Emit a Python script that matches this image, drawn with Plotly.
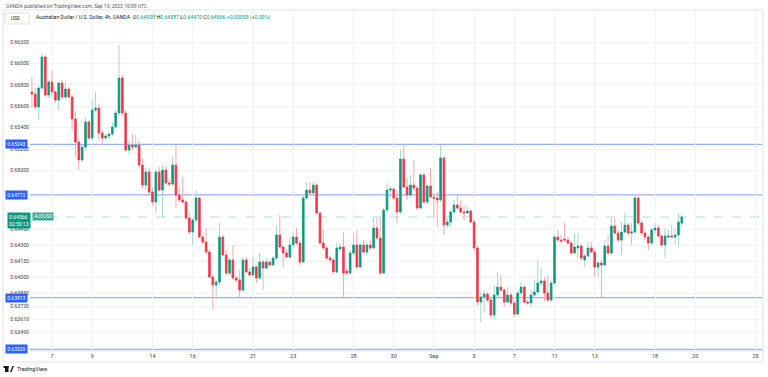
import pandas as pd
import plotly.graph_objects as go

# ---------------- data (AUD/USD, 4h, OANDA) ----------------
open_ = [0.65733,0.65714,0.65593,0.65770,0.66060,0.65705,0.65826,0.65733,0.65658,0.65817,
0.65686,0.65761,0.65686,0.65481,0.65266,0.65098,0.65219,0.65453,0.65303,0.65565,
0.65583,0.65350,0.65303,0.65322,0.65340,0.65406,0.65537,0.65864,0.65537,0.65191,
0.65238,0.65219,0.65238,0.65051,0.64864,0.64986,0.64799,0.64705,0.64986,0.64817,
0.65004,0.64883,0.64873,0.65051,0.64771,0.64724,0.64705,0.64556,0.64425,0.64537,
0.64743,0.64378,0.64332,0.64238,0.64005,0.63930,0.63958,0.64378,0.64210,0.64042,
0.64164,0.63996,0.63977,0.63883,0.64164,0.64052,0.64024,0.64098,0.63996,0.64145,
0.64089,0.64145,0.64117,0.64182,0.64397,0.64285,0.64229,0.64192,0.64304,0.64378,
0.64322,0.64145,0.64743,0.64817,0.64790,0.64864,0.64603,0.64322,0.64276,0.64182,
0.64164,0.64052,0.64266,0.64285,0.64061,0.64042,0.64229,0.64304,0.64098,0.64304,
0.64238,0.64304,0.64276,0.64462,0.64369,0.64042,0.64631,0.64817,0.64827,0.64743,
0.64612,0.65107,0.64845,0.64771,0.64864,0.64836,0.64649,0.64958,0.64705,0.64855,
0.64752,0.64743,0.64724,0.65116,0.64490,0.64518,0.64612,0.64677,0.64649,0.64612,
0.64603,0.64621,0.64518,0.64276,0.63771,0.63818,0.63846,0.63790,0.63650,0.63837,
0.63911,0.63883,0.63771,0.63837,0.63762,0.63659,0.63855,0.63911,0.63771,0.63762,
0.63837,0.63865,0.63949,0.63968,0.63855,0.63790,0.63949,0.64378,0.64350,0.64360,
0.64350,0.64322,0.64229,0.64276,0.64294,0.64164,0.64201,0.64276,0.64238,0.64098,
0.64136,0.64117,0.64294,0.64229,0.64481,0.64416,0.64350,0.64425,0.64490,0.64416,
0.64425,0.64743,0.64509,0.64416,0.64378,0.64322,0.64444,0.64462,0.64388,0.64304,
0.64378,0.64388,0.64378,0.64397,0.64508]

high = [0.65873,0.65770,0.65789,0.66097,0.66078,0.65845,0.65938,0.65751,0.65826,0.65845,
0.65826,0.65779,0.65705,0.65546,0.65284,0.65238,0.65490,0.65471,0.65658,0.65733,
0.65621,0.65378,0.65340,0.65359,0.65453,0.65565,0.66172,0.65892,0.65565,0.65284,
0.65340,0.65331,0.65275,0.65116,0.65023,0.65023,0.64836,0.65004,0.65032,0.65051,
0.65042,0.64911,0.65126,0.65238,0.64845,0.64939,0.64724,0.64612,0.64556,0.64817,
0.64752,0.64397,0.64462,0.64257,0.64024,0.63977,0.64509,0.64397,0.64257,0.64182,
0.64304,0.64014,0.64070,0.64182,0.64192,0.64089,0.64192,0.64117,0.64229,0.64164,
0.64182,0.64164,0.64201,0.64490,0.64584,0.64304,0.64257,0.64378,0.64425,0.64462,
0.64350,0.64771,0.64892,0.64892,0.64902,0.64883,0.64612,0.64444,0.64294,0.64201,
0.64182,0.64322,0.64322,0.64425,0.64089,0.64257,0.64416,0.64444,0.64322,0.64350,
0.64322,0.64350,0.64556,0.64556,0.64565,0.64649,0.64883,0.64855,0.64836,0.64817,
0.65191,0.65238,0.64930,0.64958,0.65098,0.64855,0.64976,0.64976,0.64864,0.65023,
0.64790,0.64799,0.65238,0.65135,0.64556,0.64631,0.64724,0.64771,0.64724,0.64677,
0.64659,0.64640,0.64537,0.64294,0.63865,0.63883,0.63865,0.63809,0.63930,0.64052,
0.64024,0.63902,0.63911,0.63865,0.63781,0.63874,0.63958,0.63930,0.63790,0.63883,
0.63977,0.64164,0.64089,0.64005,0.64024,0.63968,0.64397,0.64444,0.64397,0.64509,
0.64378,0.64341,0.64416,0.64416,0.64313,0.64220,0.64332,0.64332,0.64257,0.64154,
0.64164,0.64350,0.64397,0.64556,0.64556,0.64444,0.64518,0.64603,0.64509,0.64509,
0.64761,0.64761,0.64528,0.64444,0.64397,0.64462,0.64509,0.64490,0.64406,0.64462,
0.64444,0.64490,0.64462,0.64603,0.64587]

low = [0.65583,0.65574,0.65471,0.65751,0.65686,0.65677,0.65695,0.65630,0.65565,0.65667,
0.65667,0.65677,0.65378,0.65126,0.65004,0.65079,0.65191,0.65284,0.65284,0.65546,
0.65284,0.65238,0.65284,0.65294,0.65322,0.65397,0.65518,0.65518,0.65172,0.65144,
0.65191,0.65210,0.65032,0.64836,0.64817,0.64771,0.64668,0.64603,0.64799,0.64556,
0.64864,0.64855,0.64855,0.64649,0.64705,0.64696,0.64537,0.64406,0.64304,0.64518,
0.64369,0.64313,0.64220,0.63996,0.63697,0.63790,0.63930,0.64201,0.64024,0.64024,
0.63977,0.63958,0.63809,0.63865,0.64042,0.64014,0.64005,0.63949,0.63977,0.63883,
0.64070,0.64108,0.64098,0.64164,0.64266,0.64098,0.64182,0.64173,0.64285,0.64304,
0.64117,0.64136,0.64724,0.64771,0.64771,0.64593,0.64304,0.64257,0.64164,0.64145,
0.64042,0.64042,0.64257,0.63818,0.64024,0.64024,0.64210,0.64089,0.64089,0.64229,
0.64210,0.64257,0.64266,0.64350,0.64024,0.64033,0.64612,0.64780,0.64724,0.64509,
0.64593,0.64836,0.64724,0.64752,0.64817,0.64631,0.64640,0.64687,0.64687,0.64743,
0.64565,0.64472,0.64705,0.64397,0.64462,0.64472,0.64603,0.64631,0.64603,0.64537,
0.64593,0.64509,0.64257,0.63743,0.63585,0.63669,0.63771,0.63622,0.63603,0.63818,
0.63865,0.63725,0.63762,0.63743,0.63631,0.63650,0.63846,0.63762,0.63743,0.63725,
0.63827,0.63855,0.63921,0.63781,0.63771,0.63771,0.63930,0.64341,0.64322,0.64341,
0.64304,0.64210,0.64220,0.64182,0.64164,0.64098,0.64192,0.64229,0.64005,0.64005,
0.63818,0.64108,0.64210,0.64210,0.64397,0.64332,0.64210,0.64416,0.64397,0.64304,
0.64406,0.64490,0.64397,0.64350,0.64257,0.64304,0.64406,0.64378,0.64285,0.64182,
0.64369,0.64369,0.64304,0.64285,0.64470]

close = [0.65714,0.65593,0.65770,0.66060,0.65705,0.65826,0.65733,0.65658,0.65817,0.65686,
0.65761,0.65686,0.65481,0.65266,0.65098,0.65219,0.65453,0.65303,0.65565,0.65583,
0.65350,0.65303,0.65322,0.65340,0.65406,0.65537,0.65864,0.65537,0.65191,0.65238,
0.65219,0.65238,0.65051,0.64864,0.64986,0.64799,0.64705,0.64986,0.64817,0.65004,
0.64883,0.64873,0.65051,0.64771,0.64724,0.64705,0.64556,0.64425,0.64537,0.64743,
0.64378,0.64332,0.64238,0.64005,0.63930,0.63958,0.64378,0.64210,0.64042,0.64164,
0.63996,0.63977,0.63883,0.64164,0.64052,0.64024,0.64098,0.63996,0.64145,0.64089,
0.64145,0.64117,0.64182,0.64397,0.64285,0.64229,0.64192,0.64304,0.64378,0.64322,
0.64145,0.64743,0.64817,0.64790,0.64864,0.64603,0.64322,0.64276,0.64182,0.64164,
0.64052,0.64276,0.64285,0.64042,0.64042,0.64229,0.64304,0.64098,0.64304,0.64238,
0.64304,0.64276,0.64462,0.64369,0.64042,0.64631,0.64817,0.64827,0.64743,0.64612,
0.65107,0.64845,0.64771,0.64864,0.64836,0.64649,0.64958,0.64705,0.64855,0.64752,
0.64743,0.64724,0.65116,0.64490,0.64518,0.64612,0.64677,0.64649,0.64612,0.64603,
0.64621,0.64518,0.64276,0.63771,0.63818,0.63846,0.63790,0.63650,0.63837,0.63911,
0.63883,0.63771,0.63837,0.63762,0.63659,0.63855,0.63911,0.63771,0.63762,0.63837,
0.63865,0.63949,0.63968,0.63855,0.63790,0.63949,0.64378,0.64350,0.64341,0.64350,
0.64322,0.64229,0.64285,0.64294,0.64182,0.64201,0.64276,0.64238,0.64098,0.64136,
0.64117,0.64294,0.64229,0.64481,0.64416,0.64350,0.64425,0.64490,0.64416,0.64425,
0.64743,0.64509,0.64416,0.64378,0.64322,0.64444,0.64462,0.64388,0.64304,0.64388,
0.64388,0.64378,0.64397,0.64518,0.64566]

levels = [0.65243, 0.64772, 0.63813, 0.63329]
last_price = 0.64566
countdown = "02:50:13"
symbol = "AUDUSD"

ytick_vals = [0.662, 0.660, 0.658, 0.656, 0.654, 0.652, 0.650,
              0.6445, 0.6430, 0.6415, 0.6400, 0.6385, 0.6373, 0.6361, 0.6349]
ytick_text = ["%.5f" % v for v in ytick_vals]

tick_dates = ["2023-08-07", "2023-08-09", "2023-08-14", "2023-08-16", "2023-08-21",
              "2023-08-23", "2023-08-28", "2023-08-30", "2023-09-01", "2023-09-05",
              "2023-09-07", "2023-09-11", "2023-09-13", "2023-09-18", "2023-09-20",
              "2023-09-25"]
tick_text = ["7", "9", "14", "16", "21", "23", "28", "30", "Sep", "5", "7", "11",
             "13", "18", "20", "25"]

header = "OANDA published on TradingView.com, Sep 19, 2023 10:09 UTC"
title = "Australian Dollar / U.S. Dollar, 4h, OANDA"
ohlc_labels = ["O", "H", "L", "C"]
ohlc_values = ["0.64508", "0.64587", "0.64470", "0.64566"]
change_text = "+0.00058 (+0.09%)"

# ---------------- time slots (4h bars, weekdays) ----------------
days = pd.bdate_range("2023-08-04", "2023-09-29")
slots = [d + pd.Timedelta(hours=h) for d in days for h in (0, 4, 8, 12, 16, 20)]
slot_index = {t: i for i, t in enumerate(slots)}
x = list(range(len(close)))
tick_vals = [slot_index[pd.Timestamp(d)] for d in tick_dates]

# ---------------- styles ----------------
W, H = 768, 377
L, R, T, B = 30, 6, 10, 26
PW, PH = W - L - R, H - T - B
GREEN, RED = "#089981", "#f23645"
GREEN_W, RED_W = "#a3d8ce", "#f7a8af"
BLUE = "#2962ff"
FONT = "Roboto"
TXT = "#131722"


def pxx(p):
    return (p - L) / PW


def pxy(p):
    return (H - B - p) / PH


body_hi = [max(o, c) for o, c in zip(open_, close)]
body_lo = [min(o, c) for o, c in zip(open_, close)]

fig = go.Figure()
fig.add_trace(go.Candlestick(
    x=x, open=open_, high=high, low=low, close=close,
    increasing=dict(line=dict(color=GREEN_W, width=1), fillcolor=GREEN_W),
    decreasing=dict(line=dict(color=RED_W, width=1), fillcolor=RED_W),
    hoverinfo="skip", showlegend=False))
fig.add_trace(go.Candlestick(
    x=x, open=open_, high=body_hi, low=body_lo, close=close,
    increasing=dict(line=dict(color=GREEN, width=0.6), fillcolor=GREEN),
    decreasing=dict(line=dict(color=RED, width=0.6), fillcolor=RED),
    hoverinfo="skip", showlegend=False))

shapes = []
for lv in levels:
    shapes.append(dict(type="line", xref="paper", x0=0, x1=1, yref="y", y0=lv, y1=lv,
                       line=dict(color="rgba(41,98,255,0.5)", width=1.2), layer="below"))
shapes.append(dict(type="line", xref="paper", x0=0, x1=1, yref="y", y0=last_price, y1=last_price,
                   line=dict(color="rgba(8,153,129,0.3)", width=1, dash="dash"), layer="below"))
# frame
shapes.append(dict(type="rect", xref="paper", yref="paper", x0=pxx(3), x1=pxx(763),
                   y0=pxy(362), y1=pxy(10), line=dict(color="#e0e3eb", width=1)))
shapes.append(dict(type="line", xref="paper", yref="paper", x0=pxx(3), x1=pxx(763),
                   y0=0, y1=0, line=dict(color="#e0e3eb", width=1)))
# symbol box in legend
shapes.append(dict(type="rect", xref="paper", yref="paper", x0=pxx(5), x1=pxx(29),
                   y0=pxy(24), y1=pxy(13), line=dict(color="#d1d4dc", width=0.8),
                   fillcolor="white"))
# TradingView logo
shapes.append(dict(type="rect", xref="paper", yref="paper", x0=pxx(5), x1=pxx(8.5),
                   y0=pxy(372), y1=pxy(366), line=dict(width=0), fillcolor=TXT))
shapes.append(dict(type="rect", xref="paper", yref="paper", x0=pxx(3.5), x1=pxx(8.5),
                   y0=pxy(368), y1=pxy(366), line=dict(width=0), fillcolor=TXT))
shapes.append(dict(type="path", xref="paper", yref="paper",
                   path="M %f %f L %f %f L %f %f L %f %f Z" % (
                       pxx(10), pxy(372), pxx(12.5), pxy(366), pxx(14), pxy(366), pxx(11.5), pxy(372)),
                   line=dict(width=0), fillcolor=TXT))

ann = []
ann.append(dict(text=header, xref="paper", yref="paper", x=pxx(4), y=pxy(6),
                xanchor="left", yanchor="middle", showarrow=False,
                font=dict(family=FONT, size=5, color="#50535e")))
ann.append(dict(text="USD", xref="paper", yref="paper", x=pxx(9), y=pxy(18.5),
                xanchor="left", yanchor="middle", showarrow=False,
                font=dict(family=FONT, size=4.6, color=TXT)))
parts = [title, "  "]
for lab, val in zip(ohlc_labels, ohlc_values):
    parts.append("%s<span style='color:%s'>%s</span> " % (lab, GREEN, val))
parts.append("<span style='color:%s'>%s</span>" % (GREEN, change_text))
ann.append(dict(text="".join(parts), xref="paper", yref="paper", x=pxx(34), y=pxy(18),
                xanchor="left", yanchor="middle", showarrow=False,
                font=dict(family=FONT, size=5.2, color=TXT)))
for lv in levels:
    ann.append(dict(text="%.5f" % lv, xref="paper", yref="y", x=pxx(28), y=lv,
                    xanchor="right", yanchor="middle", showarrow=False,
                    bgcolor=BLUE, borderpad=1.2,
                    font=dict(family=FONT, size=5, color="white")))
ann.append(dict(text="%.5f<br>%s" % (last_price, countdown), xref="paper", yref="y",
                x=pxx(31), y=last_price, yshift=5, xanchor="right", yanchor="top",
                showarrow=False, bgcolor=GREEN, borderpad=1.2, align="left",
                font=dict(family=FONT, size=5, color="white")))
ann.append(dict(text=symbol, xref="paper", yref="y", x=pxx(32), y=last_price,
                xanchor="left", yanchor="middle", showarrow=False,
                bgcolor="#3aa891", borderpad=1,
                font=dict(family=FONT, size=4.8, color="white")))
ann.append(dict(text="TradingView", xref="paper", yref="paper", x=pxx(15), y=pxy(369),
                xanchor="left", yanchor="middle", showarrow=False,
                font=dict(family=FONT, size=5.5, color=TXT)))

fig.update_layout(
    width=W, height=H,
    margin=dict(l=L, r=R, t=T, b=B, pad=0),
    paper_bgcolor="white", plot_bgcolor="white",
    showlegend=False, hovermode=False,
    shapes=shapes, annotations=ann,
    font=dict(family=FONT, size=5.3, color=TXT),
    xaxis=dict(range=[-0.57, 217.94], tickmode="array", tickvals=tick_vals,
               ticktext=tick_text, showgrid=True, gridcolor="#f2f3f6", gridwidth=1,
               zeroline=False, showline=False, ticks="", rangeslider=dict(visible=False),
               tickfont=dict(family=FONT, size=5.5, color="#3b3e48"), fixedrange=True),
    yaxis=dict(range=[0.63314, 0.66499], tickmode="array", tickvals=ytick_vals,
               ticktext=ytick_text, side="left", showgrid=True, gridcolor="#f2f3f6",
               gridwidth=1, zeroline=False, showline=False, ticks="", fixedrange=True,
               tickfont=dict(family=FONT, size=5.2, color="#3b3e48")),
)

fig.write_html("out.html", config={"displayModeBar": False},
               post_script="document.body.style.margin='0';document.body.style.overflow='hidden';")
